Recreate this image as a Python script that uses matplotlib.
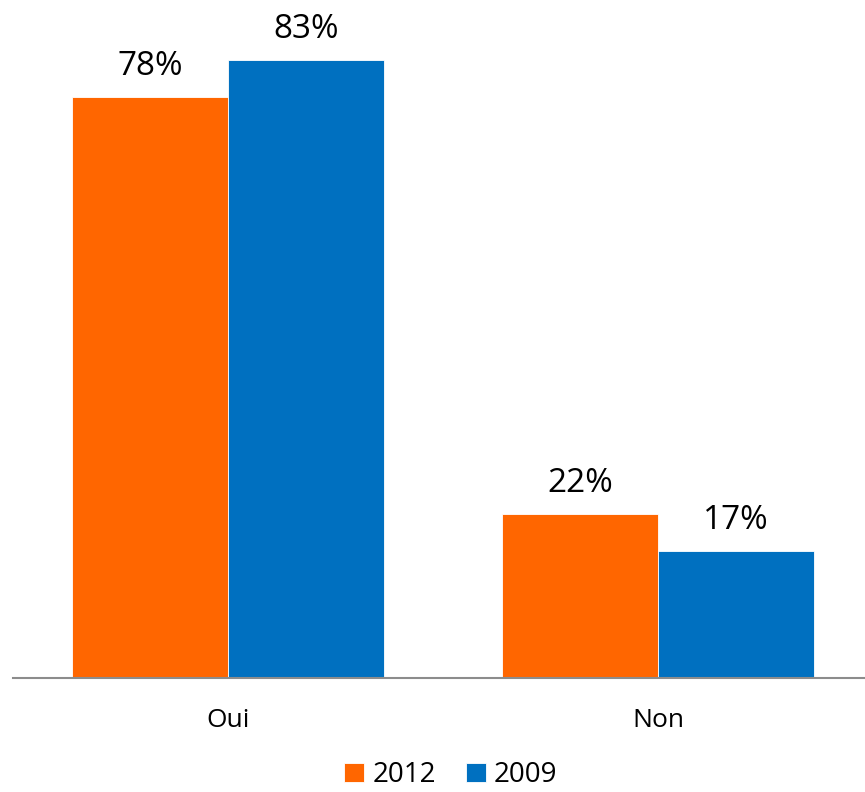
import matplotlib
matplotlib.use("Agg")
import matplotlib.pyplot as plt
import numpy as np

categories = ["Oui", "Non"]
series_names = ["2012", "2009"]
values_2012 = [78, 22]
values_2009 = [83, 17]
colors = ["#FF6600", "#0070C0"]

plt.rcParams["font.family"] = ["Open Sans", "DejaVu Sans"]

fig = plt.figure(figsize=(8.65, 7.92), dpi=100)
ax = fig.add_axes([13 / 865, (792 - 677.7) / 792, 1 - 13 / 865, 677.7 / 792])

x = np.arange(len(categories))
width = 0.363
bars_a = ax.bar(x - width / 2, values_2012, width, color=colors[0], label=series_names[0],
                edgecolor="white", linewidth=0.6)
bars_b = ax.bar(x + width / 2, values_2009, width, color=colors[1], label=series_names[1],
                edgecolor="white", linewidth=0.6)

for bars, vals in ((bars_a, values_2012), (bars_b, values_2009)):
    for b, v in zip(bars, vals):
        ax.annotate(f"{v}%", (b.get_x() + b.get_width() / 2, v),
                    xytext=(0, 10), textcoords="offset points",
                    ha="center", va="bottom", fontsize=24, color="black")

ax.set_xlim(-0.5, 1.481)
ax.set_ylim(0, 91)
ax.set_xticks(x)
ax.set_xticklabels(categories, fontsize=19)
ax.tick_params(axis="x", length=0, pad=22)
ax.set_yticks([])
for s in ("top", "right", "left"):
    ax.spines[s].set_visible(False)
ax.spines["bottom"].set_color("#8C8C8C")
ax.spines["bottom"].set_linewidth(1.5)

fig.legend(handles=[bars_a, bars_b], labels=series_names, loc="lower center",
           bbox_to_anchor=(451 / 865, -0.028), ncol=2, frameon=False, fontsize=20,
           handlelength=0.7, handleheight=0.7, handletextpad=0.3, columnspacing=1.1)

fig.savefig("out.png", dpi=100)
